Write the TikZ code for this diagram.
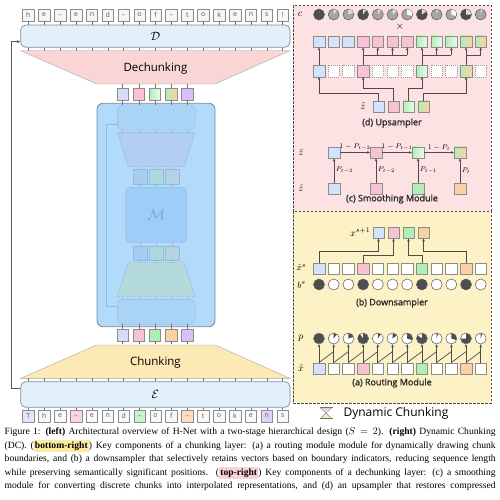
\documentclass[tikz,border=0pt]{standalone}
\usepackage{amsmath,amssymb}
\usepackage{fontspec}
\setmainfont{Liberation Serif}
\newfontfamily\hnlabel{Open Sans}
\newfontfamily\hnsub[FakeBold=1.2]{Open Sans}
\usepackage{xcolor}
\usepackage{tikz}
\usetikzlibrary{positioning}
\usetikzlibrary{arrows.meta}
\usetikzlibrary{calc}

\definecolor{tokfill}{RGB}{246,246,246}
\definecolor{encfill}{RGB}{226,240,252}
\definecolor{encline}{RGB}{128,138,152}
\definecolor{dechfill}{RGB}{249,213,213}
\definecolor{chfill}{RGB}{251,234,180}
\definecolor{hnetfill}{RGB}{178,218,250}
\definecolor{hnetline}{RGB}{118,136,158}
\definecolor{hinline}{RGB}{150,185,215}
\definecolor{hinfill}{RGB}{170,212,246}
\definecolor{htrapa}{RGB}{178,206,240}
\definecolor{htrapb}{RGB}{180,218,220}
\definecolor{hsqa}{RGB}{166,204,242}
\definecolor{hsqb}{RGB}{170,218,222}
\definecolor{hsqc}{RGB}{182,210,224}
\definecolor{hmfill}{RGB}{156,206,248}
\definecolor{hmtext}{RGB}{120,160,200}
\definecolor{clav}{RGB}{214,220,250}
\definecolor{cblue}{RGB}{212,226,252}
\definecolor{cpink}{RGB}{248,194,212}
\definecolor{cgreen}{RGB}{176,238,184}
\definecolor{corange}{RGB}{252,208,166}
\definecolor{cpurple}{RGB}{214,194,246}
\definecolor{pinkbg}{RGB}{253,226,227}
\definecolor{yellowbg}{RGB}{252,242,198}
\definecolor{darkdot}{RGB}{78,78,78}
\definecolor{greydot}{RGB}{165,165,165}
\definecolor{lightdot}{RGB}{222,222,222}
\definecolor{hlyellow}{RGB}{252,236,160}
\definecolor{hlpink}{RGB}{250,210,212}

\newcommand{\hlbox}[2]{{\setlength{\fboxsep}{1.2pt}\colorbox{#1}{\textbf{#2}}}}

\tikzset{
  tok/.style={draw=black!45, fill=tokfill, minimum width=11.5pt, minimum height=11.5pt,
    inner sep=0pt, font=\hnlabel\fontsize{7}{8}\selectfont, text=black!65},
  enc/.style={draw=encline, fill=encfill, rounded corners=5pt, line width=0.7pt,
    inner sep=0pt, font=\fontsize{13}{13}\selectfont},
  tickline/.style={draw=black!55, line width=0.6pt},
  hintick/.style={draw=hinline, line width=0.5pt},
  cbox/.style={draw=black!45, minimum size=11.5pt, inner sep=0pt},
  ublue/.style={fill=cblue},
  upink/.style={fill=cpink},
  ugreen/.style={left color=cgreen, right color=cgreen!25!white},
  ugreenflat/.style={fill=cgreen},
  uyel/.style={left color=cgreen, right color=corange},
  uorange/.style={fill=corange},
  uwhite/.style={fill=white},
  udash/.style={fill=white, draw=black!40, dash pattern=on 1pt off 1pt},
  pdot/.style={circle, draw=black!65, minimum size=11pt, inner sep=0pt, line width=0.5pt},
  arr/.style={draw=black!70, line width=0.7pt, -{Stealth[length=3pt,width=2.6pt]}},
  wire/.style={draw=black!70, line width=0.7pt},
  panel/.style={draw=black!70, dash pattern=on 2.5pt off 1.5pt, line width=0.8pt},
  subcap/.style={font=\hnsub\fontsize{9}{10}\selectfont, text=black!85},
  mlabel/.style={font=\fontsize{10}{11}\selectfont, inner sep=0pt},
  slab/.style={font=\fontsize{7}{8}\selectfont, inner sep=1.5pt},
  capline/.style={anchor=west, inner sep=0pt, font=\fontsize{9.6}{12}\selectfont}
}

\begin{document}
\begin{tikzpicture}[x=1pt,y=-1pt]
\useasboundingbox (0,0) rectangle (500,499);

% ---------- left: H-Net overview ----------
\foreach \c [count=\j] in {h,e,\_,e,n,d,\_,o,f,\_,t,o,k,e,n,s,!}
  \node[tok] (o\j) at ({28.3+15.9*(\j-1)},15) {\c};
\foreach \c/\f [count=\j] in {T/clav,h/tokfill,e/tokfill,\_/cpink,e/tokfill,n/tokfill,d/tokfill,\_/cgreen,o/tokfill,f/tokfill,\_/corange,t/tokfill,o/tokfill,k/tokfill,e/tokfill,n/cpurple,s/tokfill}
  \node[tok, fill=\f!70!white] (i\j) at ({28.3+15.9*(\j-1)},416) {\c};

\node[enc, minimum width=269.3pt, minimum height=22.3pt] (D) at (155.35,36.15) {$\mathcal{D}$};
\node[enc, minimum width=269.3pt, minimum height=25.6pt] (E) at (155.35,394.5) {$\mathcal{E}$};

\draw[draw=black!35, fill=dechfill] (20.7,50.7) -- (290,50.7) -- (215,84) -- (96.7,84) -- cycle;
\node[font=\hnlabel\fontsize{11.5}{12}\selectfont] (dech) at (155.4,68.5) {Dechunking};
\draw[draw=black!35, fill=chfill] (96.7,345) -- (215,345) -- (290,378.3) -- (20.7,378.3) -- cycle;
\node[font=\hnlabel\fontsize{11.5}{12}\selectfont] (chunk) at (155.4,362.5) {Chunking};

\foreach \j in {1,...,17} {
  \draw[tickline] (o\j.south) -- (o\j.south |- D.north);
  \draw[tickline] (o\j |- D.south) -- ++(0,3.4);
  \draw[tickline] (i\j.north) -- (i\j.north |- E.south);
  \draw[tickline] (i\j |- E.north) -- ++(0,-3.4);
}

% stage-1 network
\node[draw=hnetline, fill=hnetfill, rounded corners=6pt, line width=0.8pt,
  minimum width=118pt, minimum height=223.4pt] (H) at (156,215) {};
\node[draw=hinline, fill=hinfill, rounded corners=5pt, minimum width=77.7pt, minimum height=25pt] (Hu) at (156.2,117.5) {};
\node[draw=hinline, fill=hinfill, rounded corners=5pt, minimum width=77.7pt, minimum height=24.7pt] (Hl) at (156.2,311.7) {};
\draw[draw=hinline, fill=htrapa] (117.3,132.3) -- (195,132.3) -- (184.3,166.7) -- (128.3,166.7) -- cycle;
\draw[draw=hinline, fill=htrapb] (128.3,262.7) -- (184.3,262.7) -- (195,296.7) -- (117.3,296.7) -- cycle;
\node[draw=hinline, fill=hmfill, rounded corners=5pt, minimum width=61pt, minimum height=55.4pt,
  font=\fontsize{15}{15}\selectfont, text=hmtext] (core) at (156.2,215) {$\mathcal{M}$};
\foreach \x/\f [count=\k] in {140/hsqa,156.1/hsqb,172.2/hsqc} {
  \node[draw=hinline, fill=\f, minimum width=13.4pt, minimum height=14.7pt, inner sep=0pt] (ha\k) at (\x,176.7) {};
  \node[draw=hinline, fill=\f, minimum width=13.4pt, minimum height=14.7pt, inner sep=0pt] (hb\k) at (\x,253.3) {};
  \draw[hintick] (ha\k.north) -- ++(0,-2.6);
  \draw[hintick] (ha\k.south) -- (ha\k.south |- core.north);
  \draw[hintick] (hb\k.north) -- (hb\k.north |- core.south);
  \draw[hintick] (hb\k.south) -- ++(0,2);
}
\draw[draw=hinline, line width=0.6pt, -{Stealth[length=2.5pt,width=2.2pt]}]
  ([yshift=5.7pt]Hl.west) -- ++(-11.3,0) |- ([yshift=-6.5pt]Hu.west);

% chunk vectors above / below the network
\node[cbox, fill=clav] (u1) at (122.7,94.2) {};
\node[cbox, fill=cpink] (u2) at (138.8,94.2) {};
\node[cbox, ugreen] (u3) at (154.9,94.2) {};
\node[cbox, uyel] (u4) at (171,94.2) {};
\node[cbox, fill=cpurple] (u5) at (187.1,94.2) {};
\node[cbox, fill=clav] (d1) at (122.7,335) {};
\node[cbox, fill=cpink] (d2) at (138.8,335) {};
\node[cbox, fill=cgreen] (d3) at (154.9,335) {};
\node[cbox, fill=corange] (d4) at (171,335) {};
\node[cbox, fill=cpurple] (d5) at (187.1,335) {};
\foreach \k in {1,...,5} {
  \draw[tickline] (u\k.north) -- ++(0,-4.4);
  \draw[tickline] (u\k.south) -- (u\k.south |- Hu.north);
  \draw[hintick] (Hu.south -| u\k) -- ++(0,2.3);
  \draw[hintick] (Hl.north -| u\k) -- ++(0,-2.6);
  \draw[tickline] (d\k.north) -- (d\k.north |- Hl.south);
  \draw[tickline] (d\k.south) -- ++(0,3.3);
}

% outer residual
\draw[draw=black!65, line width=1.2pt, -{Stealth[length=3.5pt,width=3pt]}]
  ([yshift=6.2pt]E.west) -- ++(-9,0) |- ([yshift=-5.5pt]D.west);

% ---------- right: dynamic chunking ----------
\draw[panel, fill=pinkbg] (293,5) rectangle (491,211);
\draw[panel, fill=yellowbg] (293,211) rectangle (491,403);

% (d) upsampler
\node[mlabel] (clab) at (300,14.5) {$c$};
\foreach \f/\base/\wedge [count=\i] in {0/darkdot/lightdot,0.1/greydot/lightdot,0.2/greydot/lightdot,0.1/darkdot/lightdot,0.1/greydot/lightdot,0.15/greydot/lightdot,0.3/greydot/white,0.15/darkdot/lightdot,0.05/greydot/lightdot,0.3/greydot/white,0.25/darkdot/lightdot,0.05/greydot/lightdot} {
  \node[pdot, fill=\base] (c\i) at ({319+14.7*(\i-1)},14.5) {};
  \fill[\wedge] (c\i.center) -- ++(0,-5.2) arc[start angle=-90, end angle={-90+360*\f}, radius=5.2] -- cycle;
}
\node[font=\fontsize{11}{11}\selectfont] (times) at (400,27) {$\times$};
\foreach \s [count=\i] in {ublue,ublue,ublue,upink,upink,upink,upink,ugreen,ugreen,ugreen,uyel,uyel}
  \node[cbox, \s] (U\i) at ({319+14.7*(\i-1)},41.5) {};
\foreach \s [count=\i] in {ublue,udash,udash,upink,udash,udash,udash,ugreen,udash,udash,uyel,udash}
  \node[cbox, \s] (mid\i) at ({319+14.7*(\i-1)},71) {};
\foreach \s/\x [count=\k] in {ublue/378.5,upink/393.5,ugreen/408.5,uyel/423.5}
  \node[cbox, \s] (zt\k) at (\x,106.5) {};
\node[mlabel] (ztlab) at (363,106.5) {$\tilde{z}$};

\draw[arr] (zt1.north) -- ++(0,-7.5) -| (mid1.south);
\draw[arr] (zt2.north) -- ++(0,-12.5) -| (mid4.south);
\draw[arr] (zt3.north) -- ++(0,-12.5) -| (mid8.south);
\draw[arr] (zt4.north) -- ++(0,-7.5) -| (mid11.south);
\foreach \i in {1,4,8,11}
  \draw[arr] (mid\i.north) -- (U\i.south);
\draw[wire] (mid4.north |- 0,55) -- (U7.south |- 0,55);
\draw[wire] (mid8.north |- 0,55) -- (U10.south |- 0,55);
\draw[wire] (mid11.north |- 0,55) -- (U12.south |- 0,55);
\foreach \i in {5,6,7,9,10,12}
  \draw[arr] (U\i.south |- 0,55) -- (U\i.south);
\node[subcap] (capd) at (392,123) {(d) Upsampler};

% (c) smoothing module
\foreach \s/\x [count=\k] in {ublue/334,upink/376,ugreen/418,uyel/460}
  \node[cbox, \s] (sb\k) at (\x,152.5) {};
\foreach \s/\x [count=\k] in {ublue/334,upink/376,ugreenflat/418,uorange/460}
  \node[cbox, \s] (sh\k) at (\x,188.5) {};
\node[mlabel] (zblab) at (301,152.5) {$\bar{z}$};
\node[mlabel] (zhlab) at (301,188.5) {$\hat{z}$};
\path[arr] (sb1) edge node[above, slab] {$1-P_{t-2}$} (sb2);
\path[arr] (sb2) edge node[above, slab] {$1-P_{t-1}$} (sb3);
\path[arr] (sb3) edge node[above, slab] {$1-P_{t}$} (sb4);
\path[arr] (sh1) edge node[right, slab] {$P_{t-3}$} (sb1);
\path[arr] (sh2) edge node[right, slab] {$P_{t-2}$} (sb2);
\path[arr] (sh3) edge node[right, slab] {$P_{t-1}$} (sb3);
\path[arr] (sh4) edge node[right, slab] {$P_{t}$} (sb4);
\node[subcap] (capc) at (392,199) {(c) Smoothing Module};

% (b) downsampler
\foreach \s/\x [count=\k] in {ublue/378.5,upink/393.5,ugreenflat/408.5,uorange/423.5}
  \node[cbox, \s] (nx\k) at (\x,232.5) {};
\node[mlabel, anchor=east] (nxlab) at (370.5,232) {$x^{s+1}$};
\foreach \s [count=\i] in {ublue,uwhite,uwhite,upink,uwhite,uwhite,uwhite,ugreenflat,uwhite,uwhite,uorange,uwhite}
  \node[cbox, \s] (ds\i) at ({319+14.7*(\i-1)},268.5) {};
\foreach \f [count=\i] in {darkdot,white,white,darkdot,white,white,white,darkdot,white,white,darkdot,white}
  \node[pdot, fill=\f] (bs\i) at ({319+14.7*(\i-1)},284.5) {};
\node[mlabel, font=\fontsize{9.5}{10}\selectfont] (dslab) at (301.5,267.5) {$\hat{x}^{s}$};
\node[mlabel, font=\fontsize{9.5}{10}\selectfont] (bslab) at (301.5,285) {$b^{s}$};
\draw[arr] (ds1.north) -- ++(0,-11) -| (nx1.south);
\draw[arr] (ds4.north) -- ++(0,-7) -| (nx2.south);
\draw[arr] (ds8.north) -- ++(0,-7) -| (nx3.south);
\draw[arr] (ds11.north) -- ++(0,-11) -| (nx4.south);
\node[subcap] (capb) at (392,303) {(b) Downsampler};

% (a) routing module
\node[mlabel] (plab) at (301,338.5) {$p$};
\node[mlabel] (rtlab) at (301,368.5) {$\hat{x}$};
\foreach \f [count=\i] in {1.0,0.1,0.2,0.9,0.1,0.15,0.3,0.85,0.05,0.3,0.75,0.05} {
  \node[pdot, fill=white] (pp\i) at ({319+14.7*(\i-1)},338.5) {};
  \fill[darkdot] (pp\i.center) -- ++(0,-5.2) arc[start angle=-90, end angle={-90+360*\f}, radius=5.2] -- cycle;
}
\foreach \s [count=\i] in {ublue,uwhite,uwhite,upink,uwhite,uwhite,uwhite,ugreenflat,uwhite,uwhite,uorange,uwhite}
  \node[cbox, \s] (rt\i) at ({319+14.7*(\i-1)},368.5) {};
\foreach \i in {1,...,12}
  \draw[arr] (rt\i.north) -- (pp\i.south);
\foreach \i in {2,...,12} {
  \pgfmathtruncatemacro\j{\i-1}
  \draw[wire] (rt\j.north) -- ($(rt\i.north)!0.6!(pp\i.south)$);
}
\node[subcap] (capa) at (392,383) {(a) Routing Module};

% legend
\draw[draw=black!45, fill=dechfill] (320.5,408) -- (331.5,408) -- (326,413) -- cycle;
\draw[draw=black!45, fill=chfill] (326,413) -- (331.5,418.5) -- (320.5,418.5) -- cycle;
\draw[draw=black!55, line width=0.8pt] (319.5,407.8) -- (332.5,407.8);
\draw[draw=black!55, line width=0.8pt] (319.5,418.7) -- (332.5,418.7);
\node[anchor=west, font=\hnlabel\fontsize{12}{12}\selectfont] (leg) at (340,413.5) {Dynamic Chunking};

% caption
\node[capline] (cap1) at (4.5,432.5) {\makebox[491pt][s]{Figure 1: \textbf{(left)} Architectural overview of H-Net with a two-stage hierarchical design ($S = 2$). \textbf{(right)} Dynamic Chunking}};
\node[capline] (cap2) at (4.5,446) {\makebox[491pt][s]{(DC). (\hlbox{hlyellow}{bottom-right}) Key components of a chunking layer: (a) a routing module module for dynamically drawing chunk}};
\node[capline] (cap3) at (4.5,459.5) {\makebox[491pt][s]{boundaries, and (b) a downsampler that selectively retains vectors based on boundary indicators, reducing sequence length}};
\node[capline] (cap4) at (4.5,473) {\makebox[491pt][s]{while preserving semantically significant positions. (\hlbox{hlpink}{top-right}) Key components of a dechunking layer: (c) a smoothing}};
\node[capline] (cap5) at (4.5,486.5) {\makebox[491pt][s]{module for converting discrete chunks into interpolated representations, and (d) an upsampler that restores compressed}};
\end{tikzpicture}
\end{document}
